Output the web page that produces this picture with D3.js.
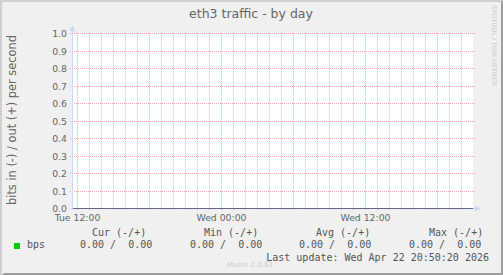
<!DOCTYPE html>
<html><head><meta charset="utf-8">
<script src="https://cdn.jsdelivr.net/npm/d3@7"></script>
<style>
html,body{margin:0;padding:0;background:#f0f0f0;}
svg{display:block;}
text{font-family:"DejaVu Sans",sans-serif;}
.mono{font-family:"DejaVu Sans Mono",monospace;}
line.g{shape-rendering:crispEdges;}
</style></head><body>
<svg id="c" width="503" height="275"></svg>
<script>
// ---- data ----
const title = "eth3 traffic - by day";
const yLabel = "bits in (-) / out (+) per second";
const yTicks = [0.0,0.1,0.2,0.3,0.4,0.5,0.6,0.7,0.8,0.9,1.0];
const xDomain = ["2026-04-21T11:38:00","2026-04-22T20:58:00"];
const xLabelTimes = ["2026-04-21T12:00:00","2026-04-22T00:00:00","2026-04-22T12:00:00"];
const xLabels = ["Tue 12:00","Wed 00:00","Wed 12:00"];
const sampleTimes = ["2026-04-21T11:40:00","2026-04-21T18:00:00","2026-04-22T00:00:00","2026-04-22T06:00:00","2026-04-22T12:00:00","2026-04-22T18:00:00","2026-04-22T20:50:00"];
const bpsIn  = [0,0,0,0,0,0,0];
const bpsOut = [0,0,0,0,0,0,0];
const statHeaders = ["Cur (-/+)","Min (-/+)","Avg (-/+)","Max (-/+)"];
const statIn  = [0.00,0.00,0.00,0.00];
const statOut = [0.00,0.00,0.00,0.00];
const seriesName = "bps";
const lastUpdate = "Last update: Wed Apr 22 20:50:20 2026";
const versionText = "Munin 2.0.63";
const sideText = "RRDTOOL / TOBI OETIKER";

// ---- drawing ----
const W=503,H=275;
const svg=d3.select("#c");
const L=73,R=473,T=33,B=208;
const parse=d3.isoParse;
const x=d3.scaleTime().domain(xDomain.map(parse)).range([L,R]);
const y=d3.scaleLinear().domain([0,1]).range([B,T]);
const py=v=>Math.round(y(v))+0.5;
const px=t=>Math.round(x(t))+0.5;

// frame
svg.append("rect").attr("x",0).attr("y",0).attr("width",W).attr("height",H).attr("fill","#f0f0f0");
svg.append("path").attr("d",`M0,0H${W}V2H2V${H}H0Z`).attr("fill","#cfcfcf");
svg.append("path").attr("d",`M${W},${H}H2L4,${H-2}H${W-2}V2L${W},0Z`).attr("fill","#9e9e9e");

// canvas
svg.append("rect").attr("x",L).attr("y",T).attr("width",R-L).attr("height",B-T).attr("fill","#fff");

// minor vertical grid (hourly)
const hours=d3.timeHour.range(x.domain()[0],x.domain()[1]);
svg.append("g").selectAll("line").data(hours.filter(d=>d.getHours()%6!==0)).join("line").attr("class","g")
  .attr("x1",px).attr("x2",px).attr("y1",T).attr("y2",B+2)
  .attr("stroke","#c8c8c8").attr("stroke-width",1).attr("stroke-dasharray","1,1");
// major vertical grid (6h)
svg.append("g").selectAll("line").data(hours.filter(d=>d.getHours()%6===0)).join("line").attr("class","g")
  .attr("x1",px).attr("x2",px).attr("y1",T).attr("y2",B+3)
  .attr("stroke","#eeaaaa").attr("stroke-width",1).attr("stroke-dasharray","1,1");
// horizontal grid
svg.append("g").selectAll("line").data(yTicks.filter(v=>v>0)).join("line").attr("class","g")
  .attr("x1",L-3).attr("x2",R+2).attr("y1",py).attr("y2",py)
  .attr("stroke","#eeaaaa").attr("stroke-width",1).attr("stroke-dasharray","1,1");

// y tick labels
svg.append("g").selectAll("text").data(yTicks).join("text")
  .attr("x",L-6).attr("y",d=>py(d)+3.4)
  .attr("text-anchor","end").attr("font-size","9.3px").attr("fill","#666")
  .text(d=>d3.format(".1f")(d));
// x tick labels
svg.append("g").selectAll("text").data(xLabelTimes).join("text")
  .attr("x",d=>px(parse(d))).attr("y",220.5)
  .attr("text-anchor","middle").attr("font-size","9.3px").attr("fill","#666")
  .text((d,i)=>xLabels[i]);

// axes
const axisC="#cfd6f8";
svg.append("line").attr("class","g").attr("x1",72.5).attr("x2",72.5).attr("y1",B+2).attr("y2",30).attr("stroke",axisC);
svg.append("path").attr("d","M69.5,31L72.5,25L75.5,31Z").attr("fill",axisC);
svg.append("line").attr("class","g").attr("x1",70).attr("x2",476).attr("y1",B+0.5).attr("y2",B+0.5).attr("stroke",axisC);
svg.append("path").attr("d",`M475,${B-2.5}L481,${B+0.5}L475,${B+3.5}Z`).attr("fill",axisC);

// data lines
const line=d3.line().x((d,i)=>x(parse(sampleTimes[i]))).y(d=>py(d));
svg.append("path").attr("d",line(bpsIn.map(v=>-v))).attr("fill","none").attr("stroke","#00cc00");
svg.append("path").attr("d",line(bpsOut)).attr("fill","none").attr("stroke","#00cc00");
// zero rule
svg.append("line").attr("class","g").attr("x1",L).attr("x2",R).attr("y1",py(0)).attr("y2",py(0))
  .attr("stroke","#66668a");

// title
svg.append("text").attr("x",251).attr("y",17.5).attr("text-anchor","middle")
  .attr("font-size","12.5px").attr("fill","#666").text(title);
// y label
svg.append("text").attr("transform","translate(16,120) rotate(-90)").attr("text-anchor","middle")
  .attr("font-size","11.4px").attr("fill","#666").text(yLabel);
// side text
svg.append("text").attr("transform","translate(491.5,5) rotate(90)").attr("text-anchor","start")
  .attr("font-size","6.3px").attr("fill","#c8c8c8").text(sideText);

// legend
const hx=[92,204,316,429];
const vx=[80,190,299,409];
svg.append("g").selectAll("text").data(statHeaders).join("text").attr("class","mono")
  .attr("x",(d,i)=>hx[i]).attr("y",236).attr("font-size","10px").attr("fill","#555").text(d=>d);
svg.append("rect").attr("x",14).attr("y",243).attr("width",6).attr("height",6).attr("fill","#00cc00");
svg.append("text").attr("class","mono").attr("x",27).attr("y",248).attr("font-size","10px").attr("fill","#555").text(seriesName);
svg.append("g").selectAll("text").data(statIn).join("text").attr("class","mono")
  .attr("x",(d,i)=>vx[i]).attr("y",248).attr("font-size","10px").attr("fill","#555")
  .attr("xml:space","preserve").style("white-space","pre")
  .text((d,i)=>d3.format(".2f")(d)+" /  "+d3.format(".2f")(statOut[i]));
svg.append("text").attr("class","mono").attr("x",489).attr("y",260.5).attr("text-anchor","end")
  .attr("font-size","10px").attr("fill","#555").style("white-space","pre").text(lastUpdate);
svg.append("text").attr("x",227).attr("y",266.5).attr("font-size","7px").attr("fill","#cccccc").text(versionText);
</script></body></html>
